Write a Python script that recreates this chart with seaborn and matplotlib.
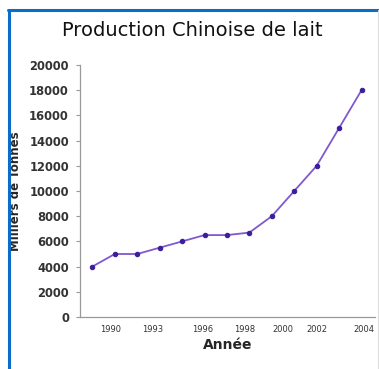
import matplotlib
matplotlib.use("Agg")
import matplotlib.pyplot as plt
from matplotlib.lines import Line2D
import seaborn as sns
import pandas as pd

# Annual Chinese milk production (thousand tonnes)
years = [1992, 1993, 1994, 1995, 1996, 1997, 1998, 1999, 2000, 2001, 2002, 2003, 2004]
production = [4000, 5000, 5000, 5500, 6000, 6500, 6500, 6700, 8000, 10000, 12000, 15000, 18000]
year_labels = ["1990", "1993", "1996", "1998", "2000", "2002", "2004"]
y_ticks = [0, 2000, 4000, 6000, 8000, 10000, 12000, 14000, 16000, 18000, 20000]

df = pd.DataFrame({"idx": range(len(years)), "year": years, "prod": production})

sns.set_theme(style="white")
plt.rcParams["font.family"] = ["DejaVu Sans"]

fig = plt.figure(figsize=(3.79, 3.69), dpi=100)
ax = fig.add_axes([80 / 379, 1 - 317 / 369, (375 - 80) / 379, (317 - 65) / 369])

sns.lineplot(data=df, x="idx", y="prod", ax=ax, color="#8158d0", lw=1.3,
             marker="o", markersize=3.2, markerfacecolor="#3a1e9c",
             markeredgecolor="#3a1e9c")

ax.set_xlim(-0.55, 12.6)
ax.set_ylim(0, 20000)
ax.set_yticks(y_ticks)
ax.set_yticklabels([str(v) for v in y_ticks], fontsize=8.3, fontweight="bold",
                   color="#333333")

# category tick marks sit between the points; year labels are placed separately
label_pos = [0.8, 2.7, 4.9, 6.8, 8.5, 10.0, 12.1]
ax.set_xticks(label_pos)
ax.set_xticklabels(year_labels, fontsize=6, color="#333333")
ax.tick_params(axis="x", which="major", length=0, pad=6)
ax.set_xticks([i + 0.5 for i in range(-1, 13)], minor=True)
ax.tick_params(axis="x", which="minor", direction="in", length=3, width=0.8, color="#999999")
ax.tick_params(axis="y", which="major", direction="out", length=3, width=0.8,
               color="#999999", pad=5, left=True)

for s in ["top", "right"]:
    ax.spines[s].set_visible(False)
for s in ["left", "bottom"]:
    ax.spines[s].set_color("#999999")
    ax.spines[s].set_linewidth(0.9)

ax.set_xlabel("Année", fontsize=10, fontweight="bold", labelpad=1)
ax.set_ylabel("Milliers de Tonnes", fontsize=8.5, fontweight="bold")
ax.yaxis.set_label_coords(-0.195, 0.5)
ax.xaxis.set_label_coords(0.5, -0.085)

fig.text(192 / 379, 1 - 30 / 369, "Production Chinoise de lait", fontsize=14,
         ha="center", va="center", color="#111111")

# blue frame along the top and left, thin grey on the right
blue = "#0a6ec8"
fig.add_artist(Line2D([8.5 / 379, 8.5 / 379], [0, 1 - 9.5 / 369], color=blue, lw=2.2,
                      transform=fig.transFigure))
fig.add_artist(Line2D([7.5 / 379, 1], [1 - 9.5 / 369, 1 - 9.5 / 369], color=blue, lw=2.2,
                      transform=fig.transFigure))
fig.add_artist(Line2D([377.5 / 379, 377.5 / 379], [0, 1 - 10 / 369], color="#dddddd", lw=0.8,
                      transform=fig.transFigure))

fig.savefig("out.png", dpi=100)
